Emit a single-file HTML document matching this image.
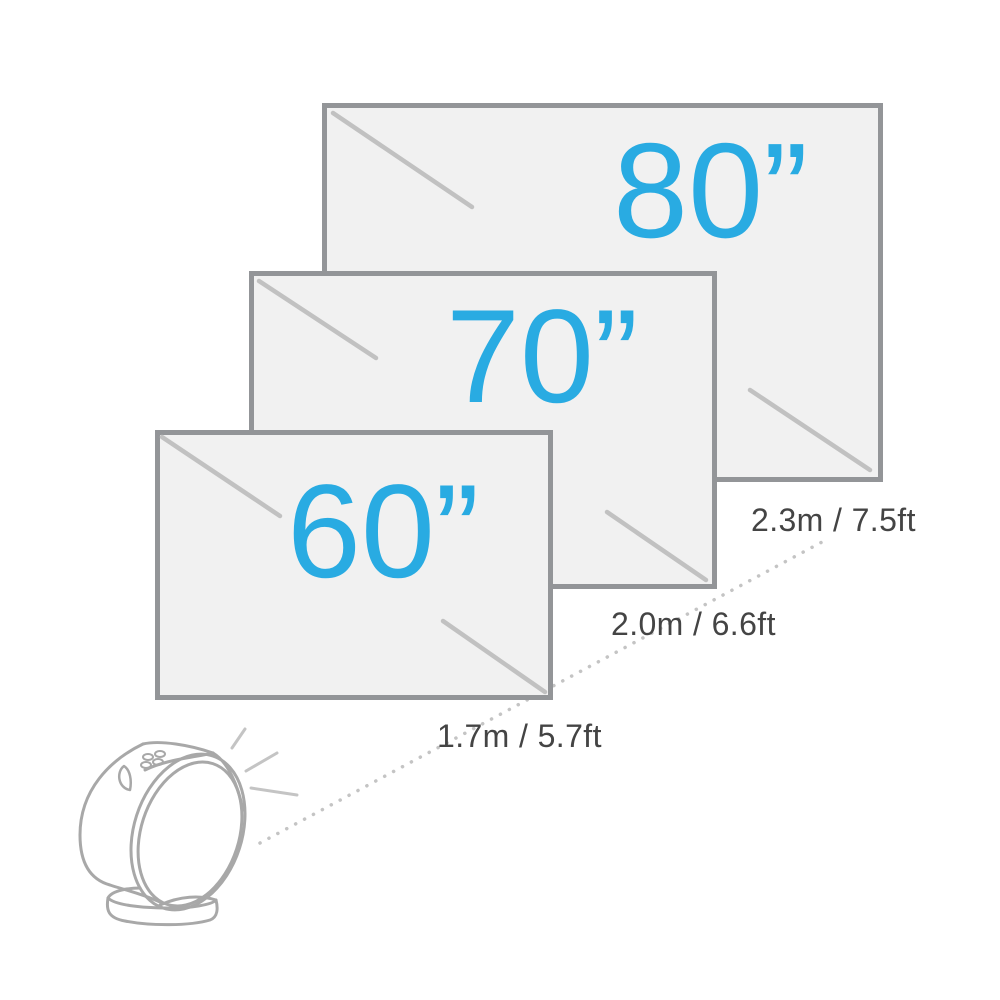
<!DOCTYPE html>
<html><head><meta charset="utf-8"><style>
html,body{margin:0;padding:0;background:#fff;}
svg{display:block;}
</style></head><body>
<svg width="1000" height="1000" viewBox="0 0 1000 1000" xmlns="http://www.w3.org/2000/svg">
<rect width="1000" height="1000" fill="#fff"/>
<line x1="260" y1="843" x2="822" y2="542" stroke="#c4c4c4" stroke-width="3.5" stroke-linecap="round" stroke-dasharray="0.1 10"/>
<rect x="324.5" y="105.5" width="556" height="374" fill="#f1f1f1" stroke="#939598" stroke-width="5"/>
<line x1="333" y1="113" x2="472" y2="207" stroke="#c1c1c1" stroke-width="4.5" stroke-linecap="round"/>
<line x1="750" y1="390" x2="870" y2="470" stroke="#c1c1c1" stroke-width="4.5" stroke-linecap="round"/>
<text x="613" y="237" font-family="Liberation Sans, sans-serif" font-size="135" fill="#29abe2">80”</text>
<rect x="251.5" y="273.5" width="463" height="313" fill="#f1f1f1" stroke="#939598" stroke-width="5"/>
<line x1="259" y1="281" x2="376" y2="358" stroke="#c1c1c1" stroke-width="4.5" stroke-linecap="round"/>
<line x1="607" y1="512" x2="706" y2="580" stroke="#c1c1c1" stroke-width="4.5" stroke-linecap="round"/>
<text x="446" y="402" font-family="Liberation Sans, sans-serif" font-size="133" fill="#29abe2">70”</text>
<rect x="157.5" y="432.5" width="393" height="265" fill="#f1f1f1" stroke="#939598" stroke-width="5"/>
<line x1="162" y1="437" x2="280" y2="516" stroke="#c1c1c1" stroke-width="4.5" stroke-linecap="round"/>
<line x1="443" y1="621" x2="545" y2="692" stroke="#c1c1c1" stroke-width="4.5" stroke-linecap="round"/>
<text x="287" y="577" font-family="Liberation Sans, sans-serif" font-size="133" fill="#29abe2">60”</text>
<g font-family="Liberation Sans, sans-serif" font-size="32" fill="#444" letter-spacing="0.4">
<text x="751" y="531">2.3m / 7.5ft</text>
<text x="611" y="635">2.0m / 6.6ft</text>
<text x="437" y="747">1.7m / 5.7ft</text>
</g>
<g stroke="#c4c4c4" stroke-width="3" stroke-linecap="round">
<line x1="232" y1="748" x2="245" y2="729"/>
<line x1="246" y1="771" x2="277" y2="753"/>
<line x1="251" y1="788" x2="297" y2="795"/>
</g>
<g fill="none" stroke="#a8a8a8" stroke-width="3" stroke-linejoin="round" stroke-linecap="round">
<path d="M108 898 C106 910 108 918 125 921 C150 926 190 926 210 920 C218 917 218 908 216 900"/>
<path d="M108 898 C112 890 130 888 140 888 M160 905 C180 896 200 895 216 900 C212 905 190 908 170 908 C140 908 115 905 108 898"/>
<path d="M143 744 C110 760 80 790 80 835 C80 865 92 880 110 885 C125 890 140 893 160 902"/>
<path d="M143 744 C160 740 190 745 213 753"/>
<path d="M145 770 C165 760 190 758 213 753"/>
<ellipse cx="188" cy="832" rx="54" ry="80" transform="rotate(18 188 832)"/>
<ellipse cx="190" cy="834" rx="49" ry="74" transform="rotate(18 190 834)"/>
<path d="M213 753 C228 762 238 785 243 810"/>
<path d="M124 766 C116 772 118 788 130 790 C132 780 130 770 124 766 Z" stroke-width="2.5"/>
<g stroke-width="2">
<ellipse cx="148" cy="757" rx="5" ry="3"/>
<ellipse cx="160" cy="754" rx="5" ry="3"/>
<ellipse cx="146" cy="765" rx="5" ry="3"/>
<ellipse cx="158" cy="762" rx="5" ry="3"/>
</g>
</g>
</svg>
</body></html>
